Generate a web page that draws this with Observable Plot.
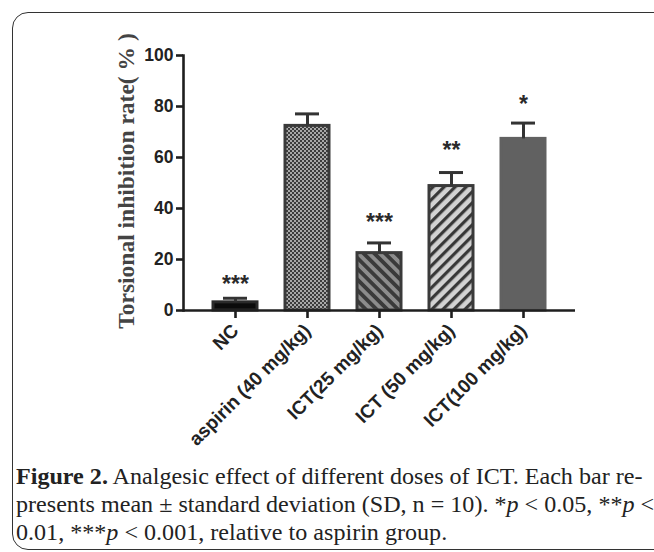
<!DOCTYPE html>
<html>
<head>
<meta charset="utf-8">
<script src="https://cdn.jsdelivr.net/npm/d3@7"></script>
<script src="https://cdn.jsdelivr.net/npm/@observablehq/plot@0.6"></script>
<style>
  html, body { margin: 0; padding: 0; background: #fff; overflow: hidden; }
  #wrap { position: relative; width: 654px; height: 552px; overflow: hidden; }
  #frame { position: absolute; left: 12px; top: 12px; width: 680px; height: 538px;
           border: 1.4px solid #333; border-radius: 16px; box-sizing: border-box; }
  #chart { position: absolute; left: 0; top: 0; }
  #caption { position: absolute; left: 16px; top: 462px; width: 700px;
             font-family: "Liberation Serif", "Times New Roman", serif; font-size: 24.1px;
             line-height: 28px; color: #222; white-space: nowrap; }
  #caption b { font-weight: bold; }
</style>
</head>
<body>
<div id="wrap">
  <div id="frame"></div>
  <svg width="0" height="0" style="position:absolute">
    <defs>
      <pattern id="checker" patternUnits="userSpaceOnUse" width="4" height="4">
        <rect width="4" height="4" fill="#a8a8a8"></rect>
        <rect width="2" height="2" fill="#3c3c3c"></rect>
        <rect x="2" y="2" width="2" height="2" fill="#3c3c3c"></rect>
      </pattern>
      <pattern id="stripeDark" patternUnits="userSpaceOnUse" width="7.6" height="7.6" patternTransform="rotate(-45)">
        <rect width="7.6" height="7.6" fill="#8c8c8c"></rect>
        <rect width="3.8" height="7.6" fill="#3a3a3a"></rect>
      </pattern>
      <pattern id="stripeLight" patternUnits="userSpaceOnUse" width="7.8" height="7.8" patternTransform="rotate(45)">
        <rect width="7.8" height="7.8" fill="#d2d2d2"></rect>
        <rect width="3.2" height="7.8" fill="#383838"></rect>
      </pattern>
    </defs>
  </svg>
  <div id="chart"></div>
  <div id="caption"><b>Figure 2.</b> Analgesic effect of different doses of ICT. Each bar re-<br>presents mean ± standard deviation (SD, n = 10). *<i>p</i> &lt; 0.05, **<i>p</i> &lt;<br>0.01, ***<i>p</i> &lt; 0.001, relative to aspirin group.</div>
</div>
<script>
// ---- data ----
const categories = ["NC", "aspirin (40 mg/kg)", "ICT(25 mg/kg)", "ICT (50 mg/kg)", "ICT(100 mg/kg)"];
const means = [3.2, 72.4, 22.5, 48.8, 67.3];
const sds = [1.6, 4.7, 4.0, 5.3, 6.2];
const stars = ["***", "", "***", "**", "*"];
const starLevels = [11.0, null, 35.3, 63.5, 81.7];
const yTicks = [0, 20, 40, 60, 80, 100];

// ---- styling per group ----
const groupFill = ["#0b0b0b", "url(#checker)", "url(#stripeDark)", "url(#stripeLight)", "#616161"];
const groupStroke = ["#2a2a2a", "#3a3a3a", "#3a3a3a", "#3a3a3a", "#616161"];

const rows = categories.map((c, i) => ({
  cat: c, mean: means[i], sd: sds[i], top: means[i] + sds[i],
  star: stars[i], starY: starLevels[i], fill: groupFill[i], stroke: groupStroke[i]
}));
const starRows = rows.filter(d => d.star);

const sans = "'Liberation Sans', Arial, sans-serif";
const ink = "#1e1e1e";

const chart = Plot.plot({
  width: 654,
  height: 455,
  marginLeft: 183,
  marginRight: 79,
  marginTop: 55,
  marginBottom: 145,
  style: { background: "transparent", fontFamily: sans, color: ink, overflow: "visible" },
  x: { domain: categories, paddingInner: 0.393, paddingOuter: 0.4, label: null },
  y: { domain: [0, 100], label: null },
  color: { type: "identity" },
  marks: [
    Plot.barY(rows, { x: "cat", y: "mean", fill: "fill", stroke: "stroke", strokeWidth: 3 }),
    Plot.ruleX(rows, { x: "cat", y1: "mean", y2: "top", stroke: "#333", strokeWidth: 3 }),
    Plot.tickY(rows, { x: "cat", y: "top", stroke: "#333", strokeWidth: 3, insetLeft: 10, insetRight: 10 }),
    Plot.text(starRows, { x: "cat", y: "starY", text: "star", fontSize: 23, fontWeight: "bold", fill: "#2a2a2a", dy: 2, fontFamily: sans }),
    Plot.ruleY([0], { stroke: ink, strokeWidth: 2.6 }),
    Plot.frame({ anchor: "left", stroke: ink, strokeWidth: 2.6 }),
    Plot.axisY({ ticks: yTicks, tickSize: 7, tickPadding: 3, tickFormat: d => String(d),
      fontSize: 17.5, fontWeight: "bold", strokeWidth: 2.6, stroke: ink, fill: "#222", label: null }),
    Plot.axisX({ tickSize: 8, tickPadding: 9, tickRotate: -45,
      fontSize: 19, fontWeight: "bold", strokeWidth: 2.6, stroke: ink, fill: "#222", label: null }),
    Plot.text(["Torsional inhibition rate( % )"], { frameAnchor: "left", rotate: -90, dx: -57, dy: -2,
      textAnchor: "middle",
      fontFamily: "'Liberation Serif', 'Times New Roman', serif", fontWeight: "bold", fontSize: 23.5, fill: "#444" })
  ]
});
document.getElementById("chart").appendChild(chart);
</script>
</body>
</html>
